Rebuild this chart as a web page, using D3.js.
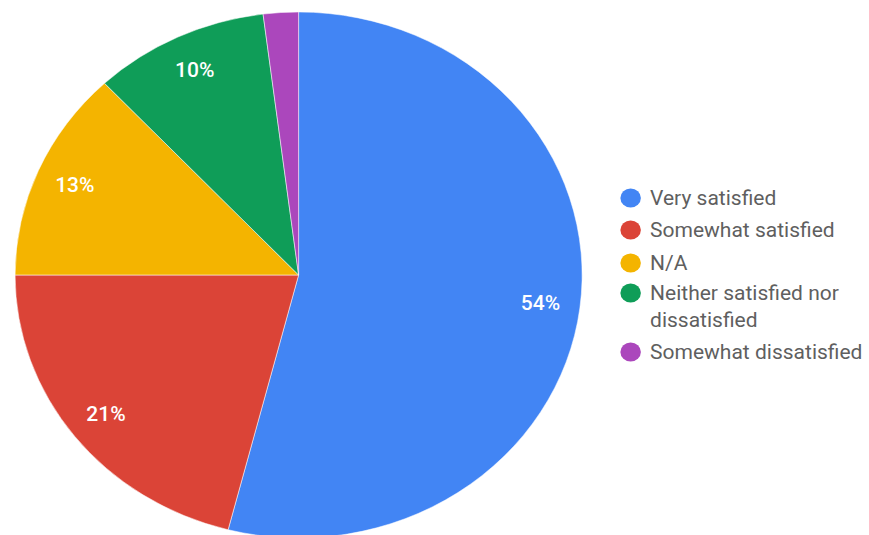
<!DOCTYPE html>
<html><head><meta charset="utf-8">
<script src="https://cdn.jsdelivr.net/npm/d3@7"></script>
<style>body{margin:0;background:#fff;}svg{display:block;}</style>
</head><body>
<svg id="c" width="869" height="535"></svg>
<script>
const categories = ["Very satisfied","Somewhat satisfied","N/A","Neither satisfied nor dissatisfied","Somewhat dissatisfied"];
const legendLines = [["Very satisfied"],["Somewhat satisfied"],["N/A"],["Neither satisfied nor","dissatisfied"],["Somewhat dissatisfied"]];
const values = [54, 21, 13, 10, 2];
const colors = ["#4285F4","#DB4437","#F4B400","#0F9D58","#AB47BC"];

const svg = d3.select("#c");
const sx = 1.078;
const root = svg.append("g").attr("transform", `scale(${sx},1)`);
const cx = 277, cy = 275, r = 263;
const pie = d3.pie().sort(null).value(d => d)(values);
const arc = d3.arc().innerRadius(0).outerRadius(r);
const labelArc = d3.arc().innerRadius(r*0.86).outerRadius(r*0.86);
const g = root.append("g").attr("transform", `translate(${cx},${cy})`);
g.selectAll("path").data(pie).join("path")
  .attr("d", arc).attr("fill", (d,i) => colors[i])
  .attr("stroke", "#fff").attr("stroke-width", 0.5);
g.selectAll("text").data(pie.filter(d => d.data >= 5)).join("text")
  .attr("transform", d => `translate(${labelArc.centroid(d)})`)
  .attr("text-anchor", "middle").attr("dy", "0.36em")
  .attr("fill", "#fff").attr("font-family", "Roboto").attr("font-weight", 500)
  .attr("font-size", 19.5)
  .text(d => d.data + "%");

const lg = root.append("g");
const rowY = [198, 230, 263, 293, 352];
legendLines.forEach((lines, i) => {
  lg.append("circle").attr("cx", 585).attr("cy", rowY[i]).attr("r", 9.5).attr("fill", colors[i]);
  lines.forEach((t, j) => {
    lg.append("text").attr("x", 603).attr("y", rowY[i] + j*27).attr("dy", "0.36em")
      .attr("fill", "#5f5f5f").attr("font-family", "Roboto").attr("font-size", 19.5)
      .text(t);
  });
});
</script>
</body></html>
